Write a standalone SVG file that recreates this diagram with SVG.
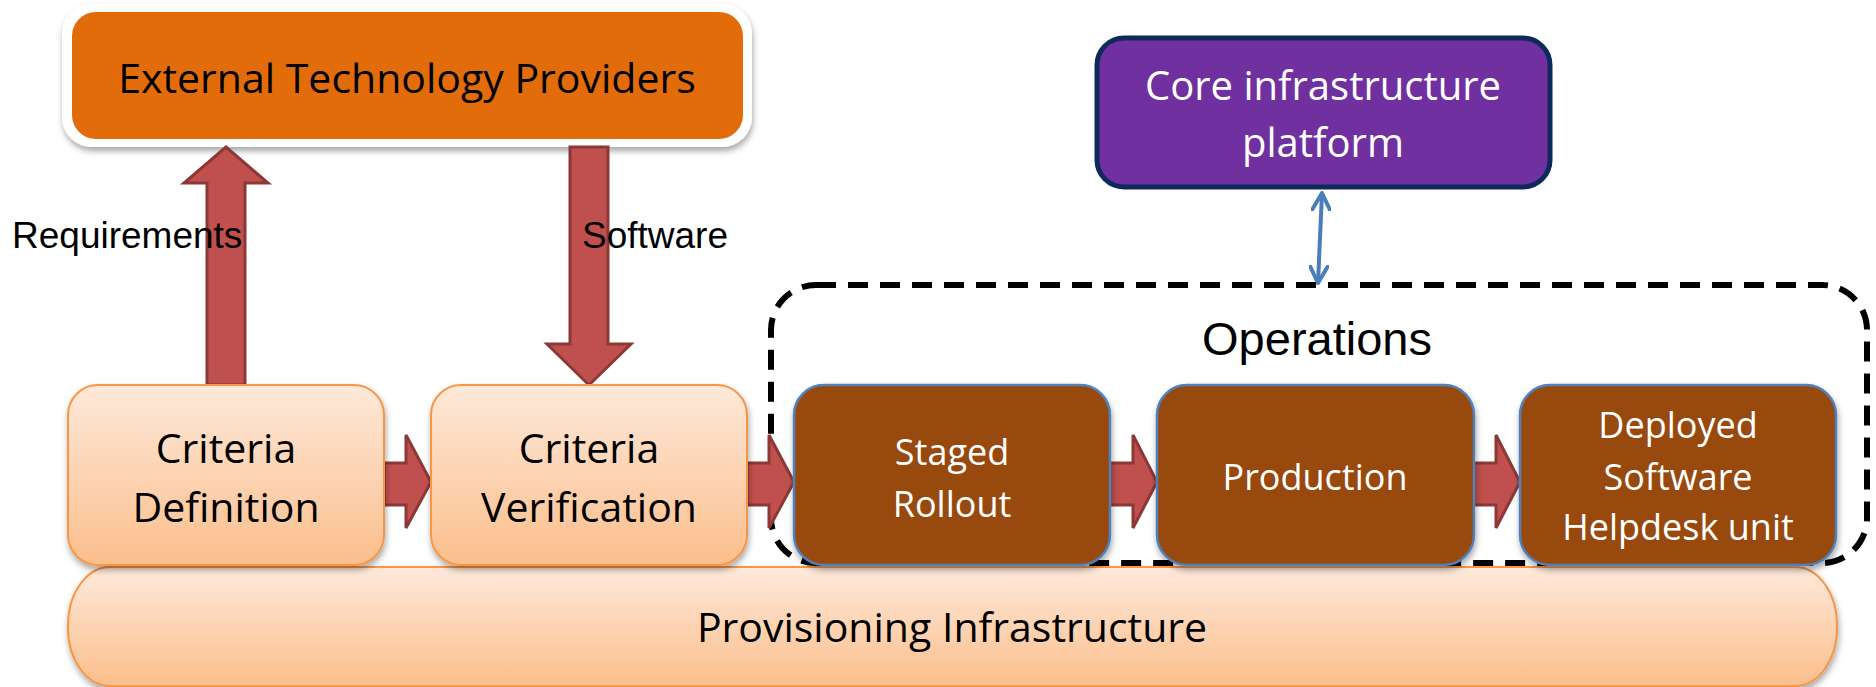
<svg xmlns="http://www.w3.org/2000/svg" width="1876" height="687" viewBox="0 0 1876 687">
<defs>
  <linearGradient id="peach" x1="0" y1="0" x2="0" y2="1">
    <stop offset="0" stop-color="#FEE9DA"/>
    <stop offset="1" stop-color="#FBBE8C"/>
  </linearGradient>
  <filter id="shadow" x="-10%" y="-10%" width="120%" height="130%">
    <feDropShadow dx="1" dy="4" stdDeviation="3" flood-color="#000" flood-opacity="0.35"/>
  </filter>
  <marker id="vhead" viewBox="0 0 20 20" refX="18" refY="10" markerWidth="20" markerHeight="20" markerUnits="userSpaceOnUse" orient="auto-start-reverse">
    <path d="M1,1 L18,10 L1,19" fill="none" stroke="#4A7EBB" stroke-width="4" stroke-linecap="round" stroke-linejoin="round"/>
  </marker>
  <style>
    .peach { fill: url(#peach); stroke: #F79646; stroke-width: 2; filter: url(#shadow); }
    .brown { fill: #984807; stroke: #4F81BD; stroke-width: 2.5; filter: url(#shadow); }
    .redarrow { fill: #C0504D; stroke: #8C3836; stroke-width: 3; stroke-linejoin: miter; }
    .t { font-family: "Open Sans", "Noto Sans", sans-serif; text-anchor: middle; }
    .dark { fill: #000; font-size: 41px; }
    .white { fill: #fff; font-size: 36px; }
    .lbl { font-family: "Liberation Sans", Arial, sans-serif; fill: #000; }
  </style>
</defs>
<rect width="1876" height="687" fill="#fff"/>

<g id="provisioning-infrastructure">
  <rect class="peach" x="68" y="567" width="1769" height="119" rx="42" ry="58"/>
  <text class="t dark" x="952" y="642" font-size="40">Provisioning Infrastructure</text>
</g>

<g id="operations">
  <rect x="771" y="285" width="1096" height="278" rx="45" ry="45" fill="none" stroke="#000" stroke-width="6" stroke-dasharray="20 12"/>
  <text class="lbl" x="1317" y="355" font-size="47" text-anchor="middle">Operations</text>
</g>

<g id="external-technology-providers">
  <rect x="62" y="4" width="690" height="143" rx="30" ry="30" fill="#fff" filter="url(#shadow)"/>
  <rect x="72" y="12" width="671" height="127" rx="24" ry="24" fill="#E36C0A"/>
  <text class="t dark" x="407" y="93">External Technology Providers</text>
</g>

<g id="core-infrastructure-platform">
  <rect x="1097" y="38" width="453" height="149" rx="27" ry="27" fill="#7030A0" stroke="#0E2A5C" stroke-width="5"/>
  <text class="t" fill="#fff" font-size="40" x="1323" y="100">Core infrastructure</text>
  <text class="t" fill="#fff" font-size="40" x="1323" y="157">platform</text>
</g>

<g id="connectors">
  <!-- Requirements (up) -->
  <polygon class="redarrow" points="207,385 207,183 184,183 226,147 268,183 245,183 245,385"/>
  <!-- Software (down) -->
  <polygon class="redarrow" points="570,147 608,147 608,344 631,344 589,385 547,344 570,344"/>
  <!-- horizontal flow arrows -->
  <polygon class="redarrow" points="384,463 406,463 406,435 431,482 406,528 406,505 384,505"/>
  <polygon class="redarrow" points="747,463 769,463 769,435 794,482 769,528 769,505 747,505"/>
  <polygon class="redarrow" points="1110,463 1133,463 1133,435 1157,482 1133,528 1133,505 1110,505"/>
  <polygon class="redarrow" points="1474,463 1496,463 1496,435 1520,482 1496,528 1496,505 1474,505"/>
  <!-- core platform <-> operations -->
  <line x1="1322" y1="193" x2="1318" y2="283" stroke="#4A7EBB" stroke-width="4" marker-start="url(#vhead)" marker-end="url(#vhead)"/>
  <text class="lbl" x="12" y="248" font-size="37">Requirements</text>
  <text class="lbl" x="582" y="248" font-size="37">Software</text>
</g>

<g id="criteria-definition">
  <rect class="peach" x="68" y="385" width="316" height="180" rx="30" ry="30"/>
  <text class="t dark" x="226" y="463">Criteria</text>
  <text class="t dark" x="226" y="522">Definition</text>
</g>

<g id="criteria-verification">
  <rect class="peach" x="431" y="385" width="316" height="180" rx="30" ry="30"/>
  <text class="t dark" x="589" y="463">Criteria</text>
  <text class="t dark" x="589" y="522">Verification</text>
</g>

<g id="staged-rollout">
  <rect class="brown" x="794" y="385" width="316" height="180" rx="30" ry="30"/>
  <text class="t white" x="952" y="465">Staged</text>
  <text class="t white" x="952" y="517">Rollout</text>
</g>

<g id="production">
  <rect class="brown" x="1157" y="385" width="317" height="180" rx="30" ry="30"/>
  <text class="t white" x="1315" y="490">Production</text>
</g>

<g id="deployed-software-helpdesk">
  <rect class="brown" x="1520" y="385" width="316" height="180" rx="30" ry="30"/>
  <text class="t white" x="1678" y="438">Deployed</text>
  <text class="t white" x="1678" y="490">Software</text>
  <text class="t white" x="1678" y="540">Helpdesk unit</text>
</g>
</svg>
